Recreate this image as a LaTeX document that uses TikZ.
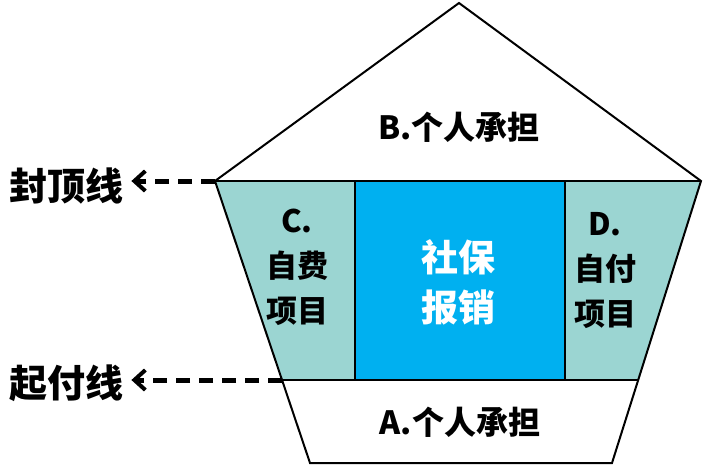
\documentclass[tikz,border=0pt]{standalone}
\usepackage{fontspec}
\newfontfamily\cjk{Noto Sans CJK SC}
\usetikzlibrary{arrows.meta}
\definecolor{sidefill}{RGB}{155,213,210}
\definecolor{payblue}{RGB}{0,176,240}

\tikzset{
  txt/.style 2 args={font=\cjk\bfseries\fontsize{#1}{#2}\selectfont, align=center, inner sep=2pt},
  edge/.style={line width=2pt, line join=miter},
  limit/.style={line width=5pt, dash pattern=on 14pt off 9pt,
    -{Straight Barb[length=11pt,width=20pt,line width=4pt]}}
}

\begin{document}
\begin{tikzpicture}[x=1pt,y=-1pt]
\useasboundingbox (0,0) rectangle (705,466);
% corners of the pentagon
\coordinate (apex) at (459,3);
\coordinate (tl) at (215,181);
\coordinate (tr) at (701,181);
\coordinate (ml) at (282,380);
\coordinate (mr) at (639,380);
\coordinate (bl) at (310,463);
\coordinate (br) at (612,463);
% band between the two lines
\fill[sidefill] (tl) -- (355,181) -- (355,380) -- (ml) -- cycle;
\fill[sidefill] (565,181) -- (tr) -- (mr) -- (565,380) -- cycle;
\fill[payblue] (355,181) rectangle (565,380);
\draw[edge] (apex) -- (tr) -- (br) -- (bl) -- (tl) -- cycle;
\draw[edge] (tl) -- (tr) (ml) -- (mr) (355,181) -- (355,380) (565,181) -- (565,380);
% texts
\node[txt={32}{40}] (partB) at (459,127) {B.个人承担};
\node[txt={32}{40}] (partA) at (460,422) {A.个人承担};
\node[txt={31}{45}] (partC) at (297,267) {C.\\自费\\项目};
\node[txt={31}{45}] (partD) at (605,270) {D.\\自付\\项目};
\node[txt={37}{50}, text=white] (social) at (458,282) {社保\\报销};
\node[txt={38}{40}, anchor=west] (capline) at (7,186) {封顶线};
\node[txt={38}{40}, anchor=west] (startline) at (7,383) {起付线};
% limit lines
\draw[limit] (tl) -- ([xshift=6pt]tl -| capline.east);
\draw[limit] (ml) -- ([xshift=6pt]ml -| startline.east);
\end{tikzpicture}
\end{document}
